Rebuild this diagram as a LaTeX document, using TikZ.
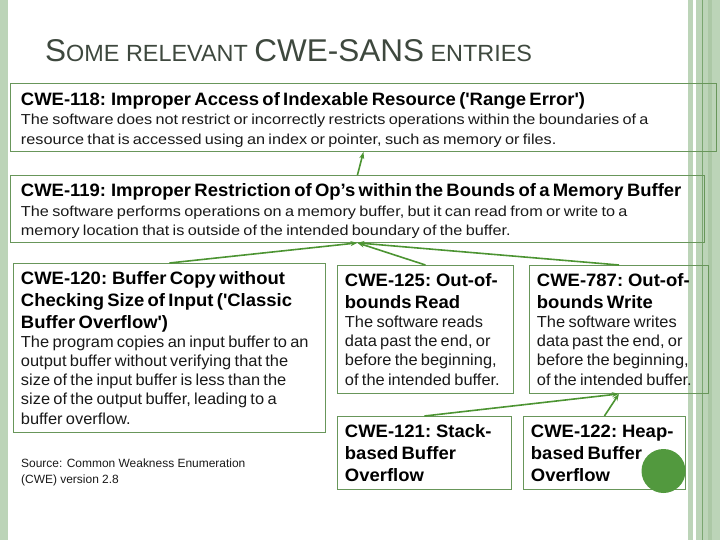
\documentclass[tikz,border=0pt]{standalone}
\usepackage{fontspec}
\setmainfont{Liberation Sans}
\newfontfamily\cwefont[FakeStretch=1.03]{Liberation Sans}
\newfontfamily\cwewidefont[FakeStretch=1.125]{Liberation Sans}
\usetikzlibrary{arrows.meta}
\definecolor{barlight}{RGB}{188,212,184}
\definecolor{barmid}{RGB}{172,200,166}
\definecolor{barline}{RGB}{122,166,112}
\definecolor{boxgreen}{RGB}{104,150,90}
\definecolor{linkgreen}{RGB}{76,148,50}
\definecolor{dotgreen}{RGB}{82,153,62}
\definecolor{headgray}{RGB}{62,72,62}
\definecolor{bodygray}{RGB}{25,25,25}
\newcommand{\capbig}[1]{{\fontsize{31.6}{31.6}\selectfont #1}}
\newcommand{\cwehead}[1]{{\cwefont\fontsize{18}{22}\selectfont\bfseries #1\par}}
\newcommand{\cweheadtop}[1]{{\cwefont\fontsize{18}{22}\selectfont\bfseries\rule{0pt}{17.5bp}#1\par}}
\newcommand{\cwetext}[1]{{\cwefont\fontsize{16}{19.2}\selectfont\color{bodygray}#1\par}}
\newcommand{\cwetextsmall}[1]{{\cwewidefont\fontsize{14.5}{19.5}\selectfont\color{bodygray}#1\par}}
\tikzset{
  cwebox/.style={rectangle, draw=boxgreen, line width=0.9pt, anchor=north west,
    align=left, inner xsep=7.5bp, inner ysep=0pt, text=black},
  widebox/.style={cwebox, inner xsep=10.5bp},
  link/.style={-{Stealth[length=7bp, width=5bp]}, line width=1.6bp, color=linkgreen},
  slidetitle/.style={anchor=base west, inner sep=0pt, text=headgray,
    font=\fontsize{23.5}{23.5}\selectfont},
  srcnote/.style={anchor=north west, inner sep=0pt, align=left,
    font=\fontsize{12}{16}\selectfont, text=bodygray}
}

\begin{document}
\begin{tikzpicture}[x=1bp, y=-1bp]
  \useasboundingbox (0,0) rectangle (720,540);

  % Side bands
  \fill[barlight] (0,0) rectangle (8,540);
  \fill[barlight] (688,0) rectangle (692.5,540);
  \fill[barlight] (696,0) rectangle (720,540);
  \fill[barmid] (708,0) rectangle (712,540);
  \draw[barline, line width=0.8bp] (702,0) -- (702,540);

  % Slide title
  \node[slidetitle] (title) at (45,62)
    {\capbig{S}OME RELEVANT \capbig{CWE-SANS} ENTRIES};

  % Top entries
  \node[widebox, text width=685bp, minimum height=68bp] (cwe118) at (10,83)
    {\cweheadtop{CWE-118: Improper Access of Indexable Resource (\textquotesingle Range Error\textquotesingle)}%
     \cwetextsmall{The software does not restrict or incorrectly restricts operations within the boundaries of a\\
     resource that is accessed using an index or pointer, such as memory or files.}};
  \node[widebox, text width=673bp, minimum height=67bp] (cwe119) at (10,175)
    {\cweheadtop{CWE-119: Improper Restriction of Op’s within the Bounds of a Memory Buffer}%
     \cwetextsmall{The software performs operations on a memory buffer, but it can read from or write to a\\
     memory location that is outside of the intended boundary of the buffer.}};

  % Child entries
  \node[cwebox, text width=297bp, minimum height=169bp] (cwe120) at (13,263)
    {\cwehead{CWE-120: Buffer Copy without\\ Checking Size of Input (\textquotesingle Classic\\ Buffer Overflow\textquotesingle)}%
     \cwetext{The program copies an input buffer to an\\ output buffer without verifying that the\\
     size of the input buffer is less than the\\ size of the output buffer, leading to a\\ buffer overflow.}};
  \node[cwebox, text width=161bp, minimum height=128bp] (cwe125) at (337,265)
    {\cwehead{CWE-125: Out-of-\\ bounds Read}%
     \cwetext{The software reads\\ data past the end, or\\ before the beginning,\\ of the intended buffer.}};
  \node[cwebox, text width=164bp, minimum height=128bp] (cwe787) at (529,265)
    {\cwehead{CWE-787: Out-of-\\ bounds Write}%
     \cwetext{The software writes\\ data past the end, or\\ before the beginning,\\ of the intended buffer.}};
  \node[cwebox, text width=159bp, minimum height=73bp] (cwe121) at (337,416)
    {\cwehead{CWE-121: Stack-\\ based Buffer\\ Overflow}};
  \node[cwebox, text width=147bp, minimum height=73bp] (cwe122) at (523,416)
    {\cwehead{CWE-122: Heap-\\ based Buffer\\ Overflow}};

  \node[srcnote] (source) at (21,459)
    {Source: Common Weakness Enumeration\\ (CWE) version 2.8};

  % Links to parents
  \draw[link] (cwe119.north) -- (cwe118.south);
  \draw[link] (cwe120.north) -- (cwe119.south);
  \draw[link] (cwe125.north) -- (cwe119.south);
  \draw[link] (cwe787.north) -- (cwe119.south);
  \draw[link] (cwe121.north) -- (cwe787.south);
  \draw[link] (cwe122.north) -- (cwe787.south);

  \fill[dotgreen] (663.5,471) circle (22);
\end{tikzpicture}
\end{document}
